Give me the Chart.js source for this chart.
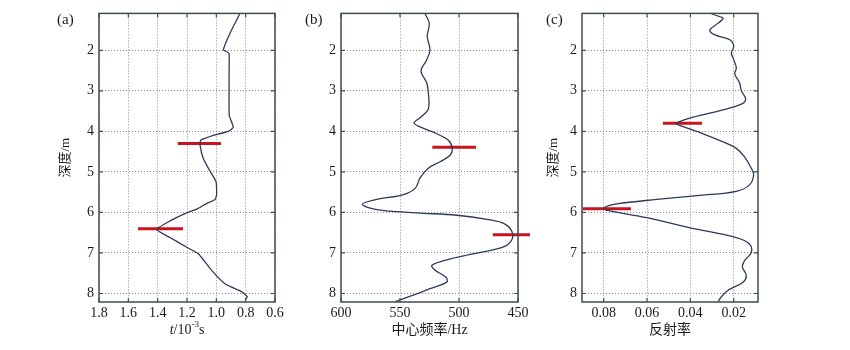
<!DOCTYPE html>
<html>
<head>
<meta charset="utf-8">
<script src="https://cdn.jsdelivr.net/npm/chart.js@4"></script>
<style>
  body { margin: 0; background: #fff; }
  canvas { position: absolute; top: 0; }
</style>
</head>
<body>
<canvas id="chartA" width="290" height="350" style="left:0px"></canvas>
<canvas id="chartB" width="240" height="350" style="left:290px"></canvas>
<canvas id="chartC" width="320" height="350" style="left:530px"></canvas>
<script>
// gemeinsame Tiefenachse
var depthTicks = [2, 3, 4, 5, 6, 7, 8];
var depthMin = 1.09, depthMax = 8.21;

// (a) Laufzeit t / 10^-3 s
var depthA = [1.1, 1.58, 1.99, 2.07, 2.5, 3.0, 3.61, 3.9, 4.0, 4.1, 4.22, 4.34, 4.67, 4.95, 5.24, 5.56, 5.68, 5.8, 5.92, 6.01, 6.21, 6.42, 6.62, 6.86, 7.02, 7.43, 7.76, 7.96, 8.08, 8.16];
var timeA = [0.84, 0.907, 0.952, 0.914, 0.913, 0.913, 0.912, 0.884, 0.918, 1.02, 1.107, 1.111, 1.089, 1.048, 1.002, 0.998, 1.009, 1.077, 1.134, 1.202, 1.316, 1.407, 1.316, 1.202, 1.123, 1.032, 0.941, 0.827, 0.789, 0.805];
var markDepthA = [4.30, 6.40];
var markFromA = [1.263, 1.534];
var markToA = [0.968, 1.227];
var ticksA = [0.6, 0.8, 1.0, 1.2, 1.4, 1.6, 1.8];

// (b) Mittenfrequenz / Hz
var depthB = [1.1, 1.33, 1.66, 2.0, 2.27, 2.51, 2.8, 3.04, 3.45, 3.65, 3.79, 3.89, 4.06, 4.22, 4.42, 4.59, 4.75, 4.91, 5.15, 5.4, 5.56, 5.68, 5.8, 5.93, 6.01, 6.07, 6.17, 6.29, 6.54, 6.78, 6.9, 7.07, 7.19, 7.31, 7.43, 7.6, 7.72, 7.88, 8.04, 8.2];
var freqB = [528.8, 525.2, 526.9, 524.6, 528, 532.2, 527.4, 526, 526, 532.5, 538.1, 533, 518.9, 509, 505.7, 507.6, 516, 526, 533, 537, 547, 569.7, 582, 569.7, 535.8, 502, 476.5, 461, 454.5, 458, 468, 496, 513, 523, 520, 511, 510.4, 524.6, 538.7, 554];
var markDepthB = [4.39, 6.55];
var markFromB = [522.6, 471.4];
var markToB = [485.6, 439.2];
var ticksB = [450, 500, 550, 600];

// (c) Reflexionskoeffizient
var depthC = [1.09, 1.13, 1.21, 1.33, 1.5, 1.62, 1.74, 1.9, 2.07, 2.23, 2.43, 2.59, 2.8, 3.0, 3.2, 3.33, 3.49, 3.65, 3.77, 3.81, 3.87, 4.06, 4.26, 4.42, 4.63, 4.91, 5.07, 5.32, 5.48, 5.58, 5.68, 5.79, 5.89, 5.95, 6.13, 6.38, 6.62, 6.78, 6.99, 7.19, 7.35, 7.55, 7.72, 7.92, 8.08, 8.2];
var reflC = [0.0305, 0.0287, 0.0249, 0.0272, 0.031, 0.0287, 0.0218, 0.02, 0.0211, 0.02, 0.0188, 0.0195, 0.0173, 0.0165, 0.0145, 0.0165, 0.0264, 0.0387, 0.0456, 0.0466, 0.044, 0.0341, 0.0249, 0.0188, 0.015, 0.0119, 0.0108, 0.0127, 0.0188, 0.0356, 0.0555, 0.0739, 0.08, 0.0784, 0.0601, 0.0402, 0.0188, 0.0127, 0.0119, 0.015, 0.016, 0.0142, 0.0157, 0.0226, 0.0257, 0.0272];
var markDepthC = [3.80, 5.91];
var markFromC = [0.0527, 0.0896];
var markToC = [0.0346, 0.0674];
var ticksC = [0.02, 0.04, 0.06, 0.08];

var serif = '"Liberation Serif", "Noto Sans CJK SC", serif';
Chart.defaults.font.family = serif;
Chart.defaults.color = '#1a1a1a';

// Rahmen, nach innen zeigende Striche, Panelbeschriftung
var boxPlugin = {
    id: 'box',
    afterDraw: function(chart, args, opts) {
        var ctx = chart.ctx, a = chart.chartArea, sx = chart.scales.x, sy = chart.scales.y;
        ctx.save();
        ctx.strokeStyle = '#3f4d4d';
        ctx.lineWidth = 1.5;
        ctx.strokeRect(a.left, a.top, a.right - a.left, a.bottom - a.top);
        ctx.lineWidth = 1.2;
        ctx.beginPath();
        sx.ticks.forEach(function(t) {
            var px = sx.getPixelForValue(t.value);
            ctx.moveTo(px, a.top); ctx.lineTo(px, a.top + 4);
            ctx.moveTo(px, a.bottom); ctx.lineTo(px, a.bottom - 4);
        });
        sy.ticks.forEach(function(t) {
            var py = sy.getPixelForValue(t.value);
            ctx.moveTo(a.left, py); ctx.lineTo(a.left + 4, py);
            ctx.moveTo(a.right, py); ctx.lineTo(a.right - 4, py);
        });
        ctx.stroke();
        ctx.fillStyle = '#1a1a1a';
        ctx.textBaseline = 'middle';
        ctx.font = '15px ' + serif;
        ctx.fillText(opts.label, opts.labelX, 20);
        if (opts.richTitle) {
            // t/10^-3 s mit kursivem t und Hochzahl
            var cx = (a.left + a.right) / 2, y = 330;
            var parts = [
                { t: 't', f: 'italic 14px ' + serif, dy: 0 },
                { t: '/10', f: '14px ' + serif, dy: 0 },
                { t: '-3', f: '9px ' + serif, dy: -5 },
                { t: 's', f: '14px ' + serif, dy: 0 }
            ];
            var w = 0;
            parts.forEach(function(p) { ctx.font = p.f; p.w = ctx.measureText(p.t).width; w += p.w; });
            var x = cx - w / 2;
            ctx.textAlign = 'left';
            parts.forEach(function(p) { ctx.font = p.f; ctx.fillText(p.t, x, y + p.dy); x += p.w; });
        }
        ctx.restore();
    }
};

function toPoints(xs, ys) {
    return xs.map(function(v, i) { return { x: v, y: ys[i] }; });
}

function makePanel(id, cfg) {
    var datasets = [];
    cfg.markDepth.forEach(function(d, i) {
        datasets.push({
            data: [{ x: cfg.markFrom[i], y: d }, { x: cfg.markTo[i], y: d }],
            showLine: true,
            borderColor: '#c8141e',
            borderWidth: 3,
            pointRadius: 0,
            clip: false,
            order: 2
        });
    });
    datasets.push({
        data: toPoints(cfg.values, cfg.depth),
        showLine: true,
        borderColor: '#2c3a5a',
        borderWidth: 1.3,
        pointRadius: 0,
        tension: cfg.tension,
        order: 1
    });

    return new Chart(document.getElementById(id), {
        type: 'scatter',
        data: { datasets: datasets },
        plugins: [boxPlugin],
        options: {
            responsive: false,
            animation: false,
            layout: { padding: { left: cfg.padLeft, right: cfg.padRight, top: 10, bottom: 8 } },
            plugins: {
                legend: { display: false },
                tooltip: { enabled: false },
                box: { label: cfg.label, labelX: cfg.labelX, richTitle: cfg.richTitle }
            },
            scales: {
                x: {
                    type: 'linear',
                    reverse: true,
                    min: cfg.xMin,
                    max: cfg.xMax,
                    afterBuildTicks: function(s) { s.ticks = cfg.xTicks.map(function(v) { return { value: v }; }); },
                    afterFit: function(s) { s.height = 40; },
                    ticks: {
                        padding: 3,
                        autoSkip: false,
                        maxRotation: 0,
                        font: { size: 14 },
                        callback: function(v) { return v.toFixed(cfg.decimals); }
                    },
                    grid: { color: '#8a8a8a', drawTicks: false },
                    border: { display: false, dash: [1, 2] },
                    title: {
                        display: !cfg.richTitle,
                        text: cfg.xTitle,
                        font: { size: 14 },
                        padding: { top: 0, bottom: 3 }
                    }
                },
                y: {
                    type: 'linear',
                    reverse: true,
                    min: depthMin,
                    max: depthMax,
                    afterBuildTicks: function(s) { s.ticks = depthTicks.map(function(v) { return { value: v }; }); },
                    afterFit: function(s) { s.width = cfg.yWidth; },
                    ticks: { padding: 5, font: { size: 14 } },
                    grid: { color: '#8a8a8a', drawTicks: false },
                    border: { display: false, dash: [1, 2] },
                    title: {
                        display: cfg.yTitle,
                        text: '深度/m',
                        font: { size: 13 },
                        padding: { top: 8, bottom: 0 }
                    }
                }
            }
        }
    });
}

makePanel('chartA', {
    depth: depthA, values: timeA, tension: 0.15,
    markDepth: markDepthA, markFrom: markFromA, markTo: markToA,
    xMin: 0.6, xMax: 1.8, xTicks: ticksA, decimals: 1,
    xTitle: 't/10⁻³s', richTitle: true, yTitle: true,
    label: '(a)', labelX: 57, padLeft: 50, yWidth: 49, padRight: 15
});
makePanel('chartB', {
    depth: depthB, values: freqB, tension: 0.35,
    markDepth: markDepthB, markFrom: markFromB, markTo: markToB,
    xMin: 450, xMax: 600, xTicks: ticksB, decimals: 0,
    xTitle: '中心频率/Hz', richTitle: false, yTitle: false,
    label: '(b)', labelX: 15, padLeft: 2, yWidth: 49, padRight: 12
});
makePanel('chartC', {
    depth: depthC, values: reflC, tension: 0.35,
    markDepth: markDepthC, markFrom: markFromC, markTo: markToC,
    xMin: 0.0088, xMax: 0.09, xTicks: ticksC, decimals: 2,
    xTitle: '反射率', richTitle: false, yTitle: true,
    label: '(c)', labelX: 16, padLeft: 8, yWidth: 44, padRight: 92
});
</script>
</body>
</html>
